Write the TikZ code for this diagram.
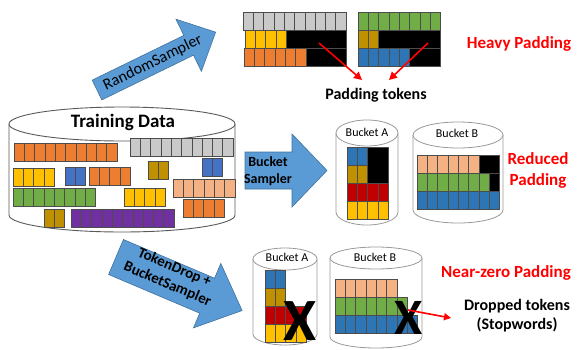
\documentclass[tikz,border=0pt]{standalone}
\usepackage{fontspec}
\setmainfont{Carlito}
\usetikzlibrary{arrows.meta}
\definecolor{corange}{HTML}{ED7D31}
\definecolor{cgray}{HTML}{C9C9C9}
\definecolor{cyellow}{HTML}{FFC000}
\definecolor{cblue}{HTML}{4472C4}
\definecolor{cblueb}{HTML}{2E75B6}
\definecolor{cbrown}{HTML}{BF9000}
\definecolor{cgreen}{HTML}{70AD47}
\definecolor{cpeach}{HTML}{F4B183}
\definecolor{cpurple}{HTML}{7030A0}
\definecolor{cred}{HTML}{C00000}
\definecolor{arrowblue}{HTML}{5B9BD5}
\definecolor{arrowedge}{HTML}{41719C}
\definecolor{labelred}{HTML}{FF0000}
\def\cellw{10.3}
\def\cellh{18}
\newcommand\cellrow[4]{\foreach \k in {1,...,#3}{\draw[cell,fill=#4] ({#1+(\k-1)*\cellw},#2) rectangle ++(\cellw,\cellh);}}
\newcommand\drawcyl[6]{%
  \draw[#6] ({#1-#2},#3) -- ({#1-#2},#4) arc[start angle=180,end angle=0,x radius=#2,y radius=#5] -- ({#1+#2},#3);
  \draw[#6] (#1,#3) ellipse[x radius=#2, y radius=#5];}
\tikzset{
  cell/.style={draw=black!70, line width=0.5pt},
  pad/.style={fill=black, draw=black!70, line width=0.5pt},
  bigcyl/.style={draw=black!65, line width=0.9pt, fill=white},
  smallcyl/.style={draw=black!40, line width=0.8pt, fill=white},
  barrow/.style={fill=arrowblue, draw=arrowedge, line width=0.6pt},
  redarr/.style={draw=labelred, line width=1.6pt, -{Triangle[length=8pt,width=8pt]}},
  blbl/.style={font=\bfseries\fontsize{16}{19}\selectfont, align=center, inner sep=0},
  rlbl/.style={text=labelred, font=\bfseries\fontsize{17}{21}\selectfont, align=center, inner sep=0},
  bktlbl/.style={font=\fontsize{12}{14}\selectfont, inner sep=0},
  xmark/.style={font=\bfseries\fontsize{60}{60}\selectfont, inner sep=0},
  arrlbl/.style={font=\bfseries\fontsize{14}{17}\selectfont, align=center, inner sep=0},
}
\begin{document}
\begin{tikzpicture}[x=1pt,y=-1pt]
\useasboundingbox (0,0) rectangle (578,349);
% ---------- Training data cylinder ----------
\drawcyl{122}{113}{124}{215}{17}{bigcyl}
\node[font=\bfseries\fontsize{19}{22}\selectfont, inner sep=0] (train) at (123,122) {Training Data};
\cellrow{14}{143}{10}{corange}
\cellrow{130}{138}{10}{cgray}
\cellrow{13}{168}{4}{cyellow}
\cellrow{65}{167}{2}{cblue}
\cellrow{89}{167}{4}{corange}
\cellrow{148}{161}{2}{cbrown}
\cellrow{202}{158}{2}{cblue}
\cellrow{13}{188}{8}{cgreen}
\cellrow{124}{188}{4}{cyellow}
\cellrow{173}{179}{6}{cpeach}
\cellrow{183}{199}{4}{corange}
\cellrow{44}{209}{2}{cbrown}
\cellrow{71}{209}{10}{cpurple}
% ---------- RandomSampler arrow ----------
\begin{scope}[shift={(97,90)},rotate=26]
  \draw[barrow] (0,-11) -- (102,-11) -- (102,-29) -- (132,0) -- (102,29) -- (102,11) -- (0,11) -- cycle;
  \node[font=\fontsize{16}{18}\selectfont, inner sep=0, rotate=26] (rs) at (62,0) {RandomSampler};
\end{scope}
% ---------- Heavy padding batches ----------
\cellrow{243}{12}{10}{cgray}
\cellrow{245}{30}{4}{cyellow}
\draw[pad] (286.2,30) rectangle (346,48);
\cellrow{244}{48}{6}{corange}
\draw[pad] (305.8,48) rectangle (346,66);
\cellrow{358}{12}{8}{cgreen}
\cellrow{358}{30}{2}{cbrown}
\draw[pad] (378.6,30) rectangle (440.4,48);
\cellrow{358}{48}{5}{cblueb}
\draw[pad] (409.5,48) rectangle (440.4,66);
\node[rlbl] (heavy) at (519,44) {Heavy Padding};
\node[blbl] (padtok) at (376,95) {Padding tokens};
\coordinate (p1) at (319,43);
\coordinate (p2) at (428,43);
\coordinate (p1e) at (362,80);
\coordinate (p2e) at (389,80);
\draw[redarr] (p1) -- (p1e);
\draw[redarr] (p2) -- (p2e);
% ---------- Bucket Sampler arrow ----------
\draw[barrow] (245,152) -- (292,152) -- (292,134) -- (327,170.5) -- (292,207) -- (292,189) -- (245,189) -- cycle;
\node[arrlbl] (bs) at (268,171) {Bucket\\Sampler};
% ---------- Middle buckets ----------
\drawcyl{367}{31}{133}{212}{13}{smallcyl}
\node[bktlbl] (ba1) at (367,132) {Bucket A};
\cellrow{347}{147}{2}{cblueb}
\draw[pad] (367.6,147) rectangle (388.2,183);
\cellrow{347}{165}{2}{cbrown}
\cellrow{347}{183}{4}{cred}
\cellrow{347}{201}{4}{cyellow}
\drawcyl{458}{45}{135}{210}{13}{smallcyl}
\node[bktlbl] (bb1) at (457,133) {Bucket B};
\cellrow{417}{155}{6}{cpeach}
\draw[pad] (478.8,155) rectangle (499.4,173);
\cellrow{417}{173}{7}{cgreen}
\draw[pad] (489.1,173) rectangle (499.4,191);
\cellrow{417}{191}{8}{cblueb}
\node[rlbl] (reduced) at (538,170) {Reduced\\Padding};
% ---------- TokenDrop arrow ----------
\begin{scope}[shift={(116,257)},rotate=-23]
  \draw[barrow] (0,-19) -- (99,-19) -- (99,-35) -- (137,0) -- (99,35) -- (99,19) -- (0,19) -- cycle;
  \node[arrlbl, font=\bfseries\fontsize{15}{18}\selectfont, rotate=-23] (td) at (58,-4) {TokenDrop +\\BucketSampler};
\end{scope}
% ---------- Bottom buckets ----------
\drawcyl{285}{32}{259}{334}{11}{smallcyl}
\node[bktlbl] (ba2) at (287,257) {Bucket A};
\cellrow{265}{270}{2}{cblueb}
\cellrow{265}{288}{2}{cbrown}
\cellrow{265}{306}{4}{cred}
\cellrow{265}{324}{4}{cyellow}
\node[xmark] (x1) at (300,321) {X};
\drawcyl{376}{46}{258}{337}{11}{smallcyl}
\node[bktlbl] (bb2) at (375,257) {Bucket B};
\cellrow{335}{279}{6}{cpeach}
\cellrow{335}{297}{7}{cgreen}
\cellrow{335}{315}{8}{cblueb}
\node[font=\bfseries\fontsize{51}{51}\selectfont, inner sep=0] (x2) at (409,318) {X};
\node[rlbl] (nearzero) at (506,273) {Near-zero Padding};
\node[blbl] (dropped) at (517,316) {Dropped tokens\\(Stopwords)};
\coordinate (dx) at (408,310);
\coordinate (dxe) at (451,318);
\draw[redarr, -{Triangle[length=7pt,width=7pt]}] (dx) -- (dxe);
\end{tikzpicture}
\end{document}
